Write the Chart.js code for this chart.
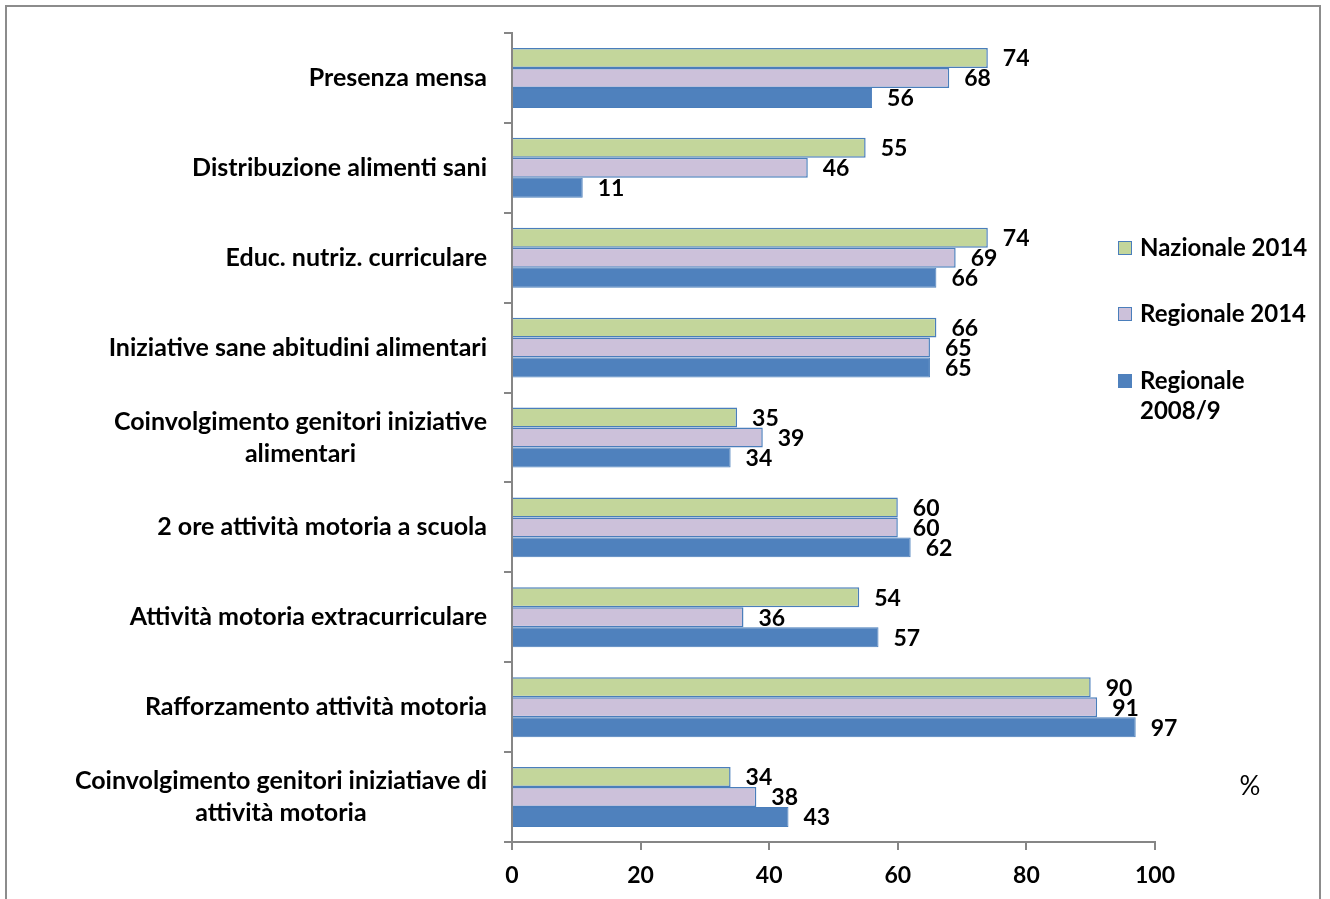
<!DOCTYPE html>
<html>
<head>
<meta charset="utf-8">
<script src="https://cdn.jsdelivr.net/npm/chart.js@4/dist/chart.umd.min.js"></script>
<style>
	html, body { margin: 0; padding: 0; background: #fff; }
	canvas { display: block; }
</style>
</head>
<body>
<canvas id="chart" width="1330" height="899"></canvas>
<script>
const categories = [
	'Presenza mensa',
	'Distribuzione alimenti sani',
	'Educ. nutriz. curriculare',
	'Iniziative sane abitudini alimentari',
	['Coinvolgimento genitori iniziative', 'alimentari'],
	'2 ore attività motoria a scuola',
	'Attività motoria extracurriculare',
	'Rafforzamento attività motoria',
	['Coinvolgimento genitori iniziatiave di', 'attività motoria'],
];

const nazionale2014 = [74, 55, 74, 66, 35, 60, 54, 90, 34];
const regionale2014 = [68, 46, 69, 65, 39, 60, 36, 91, 38];
const regionale2008 = [56, 11, 66, 65, 34, 62, 57, 97, 43];

const seriesNames = ['Nazionale 2014', 'Regionale 2014', ['Regionale', '2008/9']];
const xTicks = [0, 20, 40, 60, 80, 100];

const FONT = 'Lato, "Noto Sans", sans-serif';
const AXIS_GRAY = '#868686';
const colors = ['#C3D69B', '#CCC1DA', '#4F81BD'];
const edge = '#4A7EBB';

const framePlugin = {
	id: 'frame',
	beforeDraw(chart) {
		const ctx = chart.ctx;
		ctx.save();
		ctx.fillStyle = '#fff';
		ctx.fillRect(0, 0, chart.width, chart.height);
		ctx.strokeStyle = '#8c8c8c';
		ctx.lineWidth = 2;
		ctx.strokeRect(6, 6, 1314, 910);
		ctx.restore();
	},
};

const categoryLabels = {
	id: 'categoryLabels',
	afterDraw(chart) {
		const ctx = chart.ctx;
		const yScale = chart.scales.y;
		const right = chart.chartArea.left - 25;
		ctx.save();
		ctx.font = `bold 25px ${FONT}`;
		ctx.fillStyle = '#000';
		ctx.textAlign = 'center';
		ctx.textBaseline = 'middle';
		categories.forEach((label, index) => {
			const lines = Array.isArray(label) ? label : [label];
			const maxWidth = Math.max(...lines.map((line) => ctx.measureText(line).width));
			const center = yScale.getPixelForValue(index);
			lines.forEach((line, i) => {
				ctx.fillText(line, right - maxWidth / 2, center + (i - (lines.length - 1) / 2) * 32);
			});
		});
		ctx.restore();
	},
};

const valueLabels = {
	id: 'valueLabels',
	afterDatasetsDraw(chart) {
		const ctx = chart.ctx;
		ctx.save();
		ctx.font = `bold 23px ${FONT}`;
		ctx.fillStyle = '#000';
		ctx.textAlign = 'left';
		ctx.textBaseline = 'middle';
		chart.data.datasets.forEach((dataset, d) => {
			chart.getDatasetMeta(d).data.forEach((bar, i) => {
				ctx.fillText(String(dataset.data[i]), bar.x + 15, bar.y + 1);
			});
		});
		ctx.restore();
	},
};

const sideLegend = {
	id: 'sideLegend',
	afterDraw(chart) {
		const ctx = chart.ctx;
		const rows = [248, 314, 381];
		ctx.save();
		ctx.font = `bold 24px ${FONT}`;
		ctx.textBaseline = 'middle';
		ctx.textAlign = 'left';
		seriesNames.forEach((name, i) => {
			const y = rows[i];
			ctx.fillStyle = colors[i];
			ctx.fillRect(1118, y - 7, 14, 14);
			if (i < 2) {
				ctx.strokeStyle = edge;
				ctx.lineWidth = 1;
				ctx.strokeRect(1118.5, y - 6.5, 13, 13);
			}
			ctx.fillStyle = '#000';
			const lines = Array.isArray(name) ? name : [name];
			lines.forEach((line, j) => ctx.fillText(line, 1140, y + j * 30));
		});
		ctx.font = `26px ${FONT}`;
		ctx.textAlign = 'center';
		ctx.fillText('%', 1250, 787);
		ctx.restore();
	},
};

new Chart(document.getElementById('chart'), {
	type: 'bar',
	data: {
		labels: categories,
		datasets: [
			{ label: 'Nazionale 2014', data: nazionale2014, backgroundColor: colors[0], borderColor: edge, borderWidth: 1.5 },
			{ label: 'Regionale 2014', data: regionale2014, backgroundColor: colors[1], borderColor: edge, borderWidth: 1.5 },
			{ label: 'Regionale 2008/9', data: regionale2008, backgroundColor: colors[2], borderColor: edge, borderWidth: 1 },
		],
	},
	options: {
		indexAxis: 'y',
		responsive: false,
		animation: false,
		categoryPercentage: 0.667,
		barPercentage: 1,
		layout: { padding: { top: 33, right: 175, left: 0, bottom: 0 } },
		plugins: {
			legend: { display: false },
			tooltip: { enabled: false },
		},
		scales: {
			x: {
				min: 0,
				max: 100,
				afterBuildTicks: (scale) => {
					scale.ticks = xTicks.map((value) => ({ value }));
				},
				afterFit: (scale) => {
					scale.height = 57;
				},
				grid: { drawOnChartArea: false, tickLength: 8, color: AXIS_GRAY, lineWidth: 2 },
				border: { color: AXIS_GRAY, width: 2 },
				ticks: { color: '#000', padding: 12, font: { family: FONT, size: 23, weight: 'bold' } },
			},
			y: {
				afterFit: (scale) => {
					scale.width = 512;
				},
				grid: { drawOnChartArea: false, tickLength: 8, color: AXIS_GRAY, lineWidth: 2 },
				border: { color: AXIS_GRAY, width: 2 },
				ticks: { display: false },
			},
		},
	},
	plugins: [framePlugin, categoryLabels, valueLabels, sideLegend],
});
</script>
</body>
</html>
